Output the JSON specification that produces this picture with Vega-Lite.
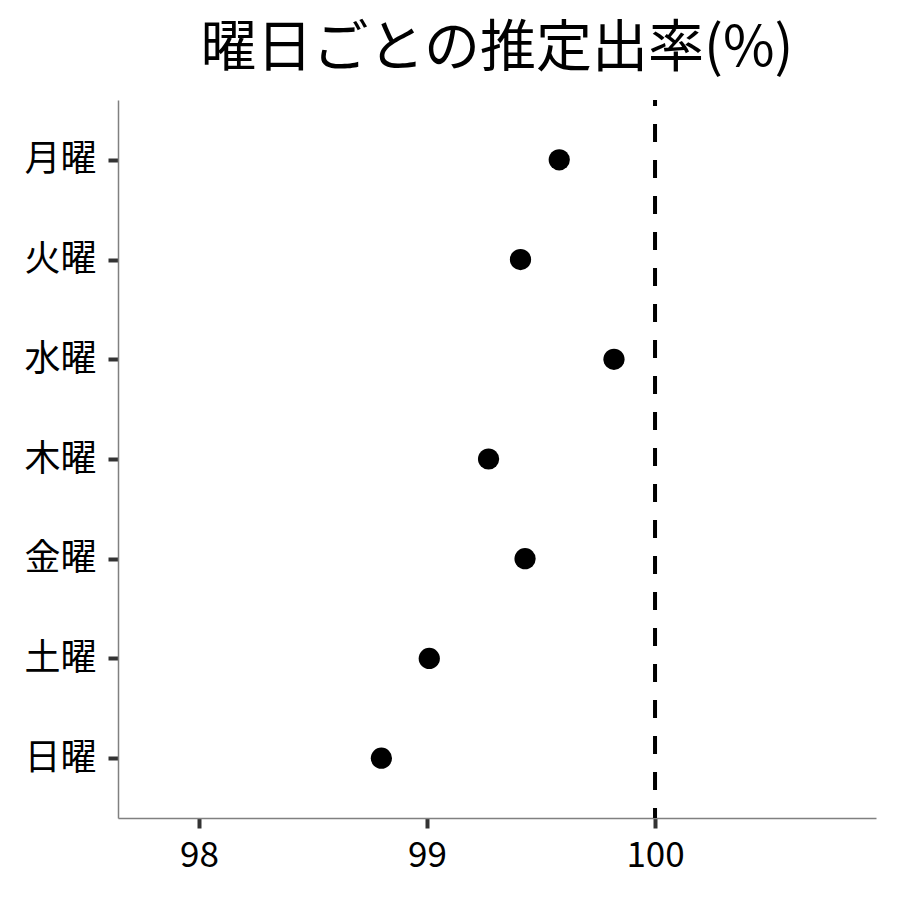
{
  "$schema": "https://vega.github.io/schema/vega-lite/v6.json",
  "autosize": "none",
  "width": 758,
  "height": 718,
  "padding": {"left": 118, "top": 100, "right": 24, "bottom": 82},
  "background": "white",
  "config": {
    "view": {"stroke": null},
    "font": "Noto Sans CJK JP"
  },
  "title": {
    "text": "曜日ごとの推定出率(%)",
    "fontSize": 56,
    "fontWeight": "normal",
    "color": "black",
    "anchor": "middle",
    "offset": 20
  },
  "data": {
    "values": [
      {"day": "月曜", "rate": 99.58},
      {"day": "火曜", "rate": 99.41},
      {"day": "水曜", "rate": 99.82},
      {"day": "木曜", "rate": 99.27},
      {"day": "金曜", "rate": 99.43},
      {"day": "土曜", "rate": 99.01},
      {"day": "日曜", "rate": 98.8}
    ]
  },
  "layer": [
    {
      "mark": {"type": "circle", "size": 450, "opacity": 1, "color": "black"},
      "encoding": {
        "y": {
          "field": "day",
          "type": "nominal",
          "sort": ["月曜", "火曜", "水曜", "木曜", "金曜", "土曜", "日曜"],
          "scale": {"type": "point", "padding": 0.6},
          "axis": {
            "title": null,
            "domainColor": "#808080",
            "domainWidth": 1.5,
            "tickColor": "#333333",
            "tickWidth": 4,
            "tickSize": 10,
            "labelFontSize": 36,
            "labelColor": "black",
            "labelPadding": 12,
            "grid": false
          }
        },
        "x": {
          "field": "rate",
          "type": "quantitative",
          "scale": {"domain": [97.645, 100.969], "nice": false, "zero": false},
          "axis": {
            "title": null,
            "values": [98, 99, 100],
            "format": "d",
            "domainColor": "#808080",
            "domainWidth": 1.5,
            "tickColor": "#333333",
            "tickWidth": 4,
            "tickSize": 10,
            "labelFontSize": 35,
            "labelColor": "black",
            "labelPadding": 10,
            "grid": false
          }
        }
      }
    },
    {
      "data": {"values": [{"ref": 100}]},
      "mark": {"type": "rule", "color": "black", "strokeWidth": 4, "strokeDash": [18, 18], "strokeDashOffset": 12},
      "encoding": {
        "x": {"field": "ref", "type": "quantitative"}
      }
    }
  ]
}
